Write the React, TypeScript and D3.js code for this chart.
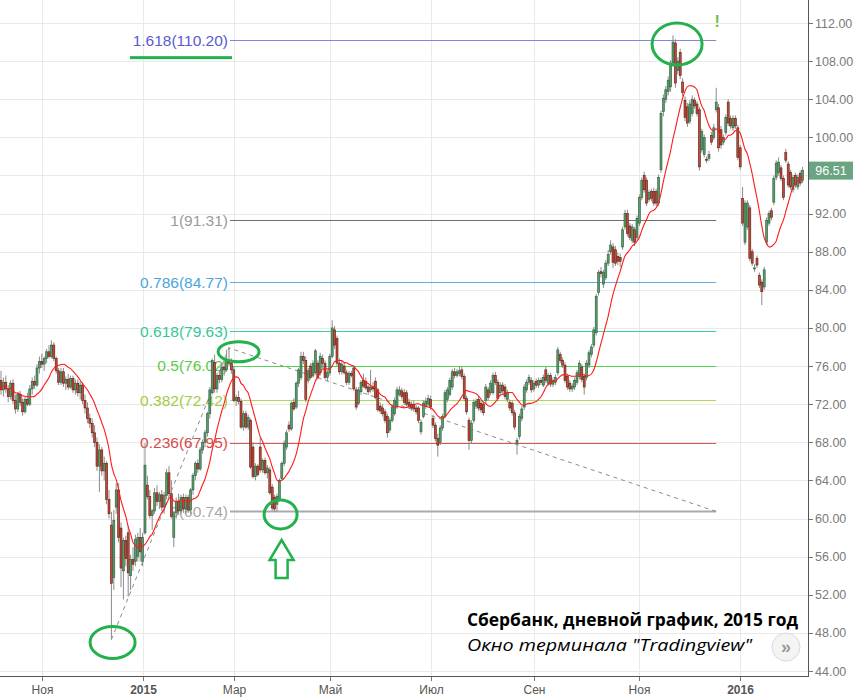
import React, { useEffect, useRef } from "react";
import * as d3 from "d3";

const width = 859;
const height = 698;

// daily candles, [open, high, low, close], one array per month
const oct14 = [
  [74.5, 75.5, 73, 73.5], [73.5, 74.8, 72.8, 74.3], [74.3, 75, 73.2, 73.6], [73.6, 74, 72.2, 72.8],
  [72.8, 74.5, 72.5, 74.2], [74.2, 74.6, 72, 72.4], [72.4, 73, 71, 71.5], [71.5, 73.3, 71.2, 73],
  [73, 73.4, 71.8, 72.2], [72.2, 72.6, 70.8, 71.2], [71.2, 72.8, 71, 72.5], [72.5, 73.2, 71.8, 72],
  [72, 74, 71.8, 73.6], [73.6, 74.8, 73, 74.4], [74.4, 75, 73.6, 74], [74, 76.2, 73.8, 75.8],
  [75.8, 77, 75.2, 76.5],
];
const nov14 = [
  [76.5, 77.3, 75.8, 76.2], [76.2, 77, 75.5, 76.8], [76.8, 77.8, 76.3, 77.5], [77.5, 78.2, 76.8, 77],
  [77, 78.7, 76.8, 78.2], [78.2, 78.5, 76.5, 76.8], [76.8, 77, 75.2, 75.5], [75.5, 75.8, 74, 74.3],
  [74.3, 75.8, 74, 75.4], [75.4, 75.8, 73.8, 74.2], [74.2, 74.9, 73.5, 74.6], [74.6, 75.2, 73.5, 73.8],
  [73.8, 75, 73.6, 74.7], [74.7, 75, 73.2, 73.5], [73.5, 74.6, 73, 74.2], [74.2, 74.6, 72.8, 73.2],
  [73.2, 74.4, 72.5, 74], [74, 74.3, 72, 72.4], [72.4, 73, 71, 71.6], [71.6, 72.2, 70, 70.5],
];
const dec14 = [
  [70.5, 71, 69.5, 70], [70, 70.5, 68.5, 69], [69, 69.8, 67.5, 68], [68, 68.5, 65, 65.5],
  [65.5, 67.8, 62.8, 67.2], [67.2, 67.5, 64.5, 65], [65, 66.5, 64, 65.8], [65.8, 66, 61.5, 62],
  [62, 63, 60, 60.5], [59.3, 60.7, 47.3, 53.2], [53.8, 60.9, 52.5, 59.8], [61.2, 63.7, 60.5, 63],
  [63, 63.7, 57.5, 58], [59, 59.6, 52.8, 54.8], [54.5, 58, 51.5, 57.7], [57.7, 58.2, 55, 55.8],
  [58.5, 59.2, 51.8, 54.3], [54, 56.2, 52.5, 55.7], [55.7, 57, 54.5, 55.2], [55.5, 58.3, 55, 57.8],
  [56, 58.5, 55.5, 58], [58, 59, 55.5, 56.5],
];
const jan15 = [
  [55.5, 58.5, 55, 58], [58.5, 67.9, 58.3, 65.6], [63.5, 64.5, 62, 62.3], [62.3, 63, 60, 60.3],
  [60.3, 61, 58.8, 60.8], [60.8, 63.2, 60.5, 62.7], [62.7, 63.5, 61.3, 61.8], [61.8, 62.8, 61, 62.5],
  [62.5, 63, 60.8, 61.2], [61.2, 62.8, 60.5, 62.4], [62.4, 65.2, 62, 64.8], [64.8, 65.5, 62.3, 62.6],
  [62.6, 64, 60, 60.2], [58, 60.8, 57, 60.6], [60.6, 62.2, 60, 61.8], [61.8, 62.6, 60.4, 60.8],
  [60.8, 62.5, 60.5, 62.2], [62.2, 62.6, 60.6, 61],
];
const feb15 = [
  [61, 62.5, 60.5, 62.2], [62.2, 62.5, 60.6, 60.9], [60.9, 63.2, 60.5, 63], [63, 64.8, 62.5, 64.5],
  [64.5, 66, 64, 65.8], [65.8, 66.2, 64.8, 65.2], [65.2, 67.5, 65, 67.2], [67.2, 68.3, 66.8, 68],
  [68, 69.3, 67.5, 69], [69, 71.2, 68.6, 71], [71, 73.8, 70.5, 73.5], [73.2, 76.8, 73, 76.6],
  [76.4, 77.2, 73.2, 73.6], [73.6, 75.3, 73.2, 75], [75, 75.4, 74.2, 74.6], [74.6, 76.2, 74.3, 75.9],
  [75.9, 76.4, 75, 75.6], [75.6, 77.7, 75.4, 76.6], [76.6, 78, 76, 76.3], [76.3, 76.8, 75.2, 75.6],
];
const mar15 = [
  [75.6, 76, 72.2, 72.4], [72.4, 73, 71.8, 72.7], [72.7, 73.4, 72, 72.3], [72.3, 72.6, 69.4, 69.6],
  [69.6, 71.3, 69.2, 71], [71, 71.3, 69.4, 69.6], [69.6, 70.9, 69.3, 70.6], [70.3, 70.5, 65.2, 65.4],
  [67.5, 68, 64.2, 64.4], [64.4, 65.8, 64, 65.5], [65.5, 65.7, 64.4, 64.6], [67.5, 68.5, 64.8, 65.1],
  [65.1, 66.3, 64.8, 66.1], [66.1, 66.4, 64.6, 64.8], [64.8, 65.6, 64.2, 65.3], [65.1, 65.4, 62.5, 62.7],
  [63.3, 63.6, 60.8, 61.1], [62.2, 62.5, 60.7, 61], [61.5, 62.6, 60.74, 62.3], [62, 64.2, 61.8, 64],
];
const apr15 = [
  [64.2, 66, 64, 65.8], [65.8, 68.2, 65.5, 67.9], [67.5, 69.3, 67.2, 69], [69.8, 70.2, 69.1, 69.4],
  [69.4, 72.3, 69.2, 72.1], [72.2, 72.6, 71.3, 71.5], [71.7, 74.4, 71.5, 74.2], [74.2, 75.8, 73.8, 75.6],
  [74.8, 77.5, 74.5, 77], [77, 77.5, 76.2, 76.6], [76.6, 77, 72.2, 72.5], [74.5, 75.8, 74.2, 75.5],
  [76, 76.3, 74.6, 74.8], [75, 76.6, 74.8, 76.3], [75.3, 77.8, 75.1, 77.6], [76.3, 76.6, 74.6, 74.8],
  [75.3, 77.4, 75, 77], [76.8, 77.2, 75.8, 76.3], [76.3, 76.6, 74.6, 74.8], [74.8, 75.6, 74.4, 75.3],
];
const may15 = [
  [75.3, 77.3, 75, 77], [77, 80.8, 76.8, 80], [79.8, 80.2, 77.8, 78.2], [78.9, 79.2, 76, 76.3],
  [76.3, 76.8, 75.1, 75.4], [75.4, 76.5, 75.1, 76.2], [76, 76.4, 75.1, 75.3], [75.3, 75.6, 74, 74.3],
  [74.3, 75.5, 74, 75.2], [75.2, 75.5, 74.8, 75], [75.8, 76, 73.4, 73.6], [73.5, 73.8, 71.4, 71.7],
  [72.1, 73.8, 71.9, 73.5], [73.3, 74.5, 73, 74.3], [74.5, 75.2, 73.7, 73.9], [74.4, 74.8, 73.5, 73.7],
  [73.8, 74, 73, 73.3], [73.5, 75.6, 73.2, 73.8], [73.8, 74.3, 73.3, 73.6], [74.4, 74.8, 72.5, 72.7],
  [73.5, 73.7, 71.2, 71.4],
];
const jun15 = [
  [71.8, 72.2, 71, 71.3], [71.6, 72, 70.7, 71], [71.2, 71.5, 70, 70.3], [70.7, 71, 68.5, 69],
  [69.3, 70.6, 69, 70.3], [70.3, 72, 70.1, 71.7], [71, 72.7, 70.8, 72.4], [71.7, 73.8, 71.5, 73.5],
  [73, 73.9, 72.8, 73.5], [73.4, 73.7, 72.5, 72.8], [73.2, 73.6, 71.9, 72.2], [73.2, 73.5, 71.8, 72],
  [72.2, 72.6, 71.5, 71.8], [72, 72.3, 71.3, 71.6], [72, 72.4, 71.2, 71.5], [71.6, 71.9, 70.9, 71.2],
  [71.6, 71.8, 70, 70.3], [69.1, 70.4, 68.8, 70.1], [70.7, 72.4, 70.5, 72.1], [71.8, 72.7, 71.5, 72.3],
  [72, 73, 71.8, 72.6],
];
const jul15 = [
  [72.5, 72.9, 71.4, 71.7], [70.5, 70.9, 69.5, 69.8], [69.8, 70.1, 68.1, 68.4], [68.4, 68.9, 66.5, 67.7],
  [68, 69.8, 67.7, 69.5], [69.5, 71, 69.2, 70.7], [70.7, 73.5, 70.5, 73.2], [72.5, 73.8, 72.2, 73.5],
  [73, 74.8, 72.8, 74.5], [73.8, 75.7, 73.5, 75.4], [75.4, 75.8, 74.7, 75], [75, 75.7, 74.8, 75.4],
  [75.2, 76, 74.9, 75.5], [75.6, 75.9, 74.6, 74.9], [74.9, 75.2, 72.3, 72.6], [72.6, 72.9, 70.9, 71.2],
  [70.3, 70.6, 67.2, 68.2], [68.2, 70.3, 67.9, 70], [70.3, 72.5, 70, 72.2], [71.8, 72.6, 71.5, 72.3],
  [72.5, 72.9, 71.3, 71.6], [72.1, 72.4, 71.1, 71.4],
];
const aug15 = [
  [72, 72.3, 70.8, 71.1], [72.4, 74.1, 72.1, 73.8], [73.5, 73.8, 72.4, 72.7], [73.2, 74.5, 72.9, 74.2],
  [73.2, 75.3, 73, 75], [75, 75.4, 74, 74.3], [74.3, 74.6, 72.3, 72.6], [73.2, 74.3, 72.9, 74],
  [74, 74.3, 73.1, 73.4], [73.8, 74.1, 72.5, 72.8], [72.5, 73.5, 72.2, 73.2], [72.2, 72.5, 71.3, 71.6],
  [72.1, 72.4, 70.8, 71.1], [71.1, 71.4, 69.3, 69.6], [67.9, 68.5, 66.7, 68.2], [68.6, 71, 68.3, 70.7],
  [70.5, 71.8, 70.2, 71.5], [71.7, 74.1, 71.4, 73.8], [73.5, 74.6, 73.2, 74.3], [74.3, 75.1, 74, 74.8],
  [74.5, 74.8, 73.2, 73.5],
];
const sep15 = [
  [73.6, 74.5, 73.3, 74.2], [74.4, 74.7, 73.7, 74], [74, 74.8, 73.7, 74.5], [74.5, 74.8, 74, 74.3],
  [74, 75.1, 73.8, 74.8], [75.6, 75.9, 74.2, 74.5], [74.2, 75.3, 73.9, 75], [75, 75.3, 73.8, 74.1],
  [74.1, 74.8, 73.8, 74.5], [74.3, 75.1, 74, 74.8], [75.3, 78, 75, 77.7], [77.2, 77.5, 76.3, 76.6],
  [76.6, 76.9, 75.8, 76.1], [76.1, 76.4, 74.2, 74.5], [74.9, 75.2, 73.5, 73.8], [74.2, 74.5, 73.3, 73.6],
  [73.6, 74.2, 73.3, 73.9], [73.8, 74.8, 73.5, 74.5], [74.3, 75.6, 74, 75.3], [74.9, 76.6, 74.6, 76.3],
  [75.9, 76.2, 74.3, 74.6], [74.9, 75.2, 73, 73.8],
];
const oct15 = [
  [74.8, 76.6, 74.5, 76.3], [76.1, 77.7, 75.8, 77.4], [77.2, 78.3, 76.9, 78], [78.2, 80.1, 77.9, 79.8],
  [79.5, 83.6, 79.2, 83.3], [83.7, 86.1, 83.4, 85.8], [85.9, 86.4, 85.3, 85.7], [84.6, 86.1, 84.2, 85.8],
  [85.3, 87.1, 85, 86.8], [86.8, 88.2, 86.5, 87.7], [88, 89.2, 87.7, 88.7], [88.5, 88.9, 86.3, 86.9],
  [88.2, 88.6, 86.5, 86.8], [87.5, 87.9, 86.6, 87], [87.4, 87.8, 86.4, 87], [88.5, 90.6, 88.2, 90.3],
  [90.6, 92.4, 90.3, 92], [92, 92.4, 89.6, 89.9], [90.7, 91, 89.2, 89.5], [89.2, 90.9, 88.9, 90.6],
  [90.3, 90.6, 88.6, 89], [89.5, 91.8, 89.2, 91.5],
];
const nov15 = [
  [91, 94, 90.7, 93.7], [93.7, 95.8, 93.4, 95.5], [96, 96.4, 94.2, 94.5], [95.5, 95.8, 92.8, 93.1],
  [93.5, 94.5, 93.2, 94.2], [94.3, 94.6, 93.3, 93.6], [94.3, 94.7, 92.8, 93.1], [94.3, 94.6, 92.8, 93.1],
  [93.1, 96.1, 92.8, 95.8], [96.6, 102.8, 96.3, 102.5], [102.7, 104.5, 102.2, 104.1], [104, 105.4, 103.6, 105],
  [104.8, 106.4, 104.4, 106], [105.3, 108.1, 104.8, 107.8], [107.8, 110.7, 107.4, 110], [109.9, 110.3, 105.2, 105.7],
  [107, 108.4, 106.6, 108], [108.9, 109.3, 106.1, 106.5], [105.8, 106.2, 104.3, 104.7], [103.9, 104.3, 101.7, 102.1],
];
const dec15 = [
  [103.2, 103.6, 101.1, 101.5], [101.7, 103.9, 101.4, 103.5], [102.5, 104.4, 102.2, 104], [103.9, 104.2, 103, 103.3],
  [103.5, 103.8, 102.2, 102.5], [102.9, 103.2, 96.5, 96.9], [98.7, 100.9, 98.4, 100.6], [98.2, 100.3, 97.9, 100],
  [97.7, 98, 97.3, 97.6], [97.8, 98.6, 97.5, 98.2], [100.2, 100.6, 99.2, 99.5], [100, 101.4, 99.7, 101],
  [102.9, 105.2, 102.6, 103.7], [103.1, 103.5, 98.5, 98.9], [100.8, 101.2, 98.8, 99.2], [99.5, 100.3, 99.2, 100],
  [100.5, 102.4, 100.2, 102.1], [103.7, 104, 101.2, 101.5], [102, 102.3, 100.9, 101.2], [101, 102.3, 100.7, 102],
  [102, 102.3, 100.9, 101.2], [101, 101.3, 97.6, 97.9],
];
const jan16 = [
  [98.9, 99.2, 96.6, 96.9], [93.6, 94.8, 90.7, 91], [89, 93.4, 88.7, 93.1], [90.6, 93.4, 90.3, 93.1],
  [92.6, 92.9, 87, 87.3], [88, 88.3, 86.5, 86.8], [86.3, 86.7, 85.9, 86.3], [87.3, 87.6, 86.3, 86.6],
  [85.5, 85.8, 84.2, 84.5], [84.8, 85.1, 82.4, 83.8], [84.3, 86.4, 84, 86.1], [89, 91.6, 88.7, 91.3],
  [91, 92.3, 90.7, 92], [92.3, 92.6, 91.3, 91.6], [93.2, 96, 92.9, 95.7],
];
const feb16 = [
  [95.8, 97.6, 95.5, 97.3], [96.3, 97.9, 96, 97.4], [96.8, 97.1, 95.4, 95.7], [95.7, 96, 93.4, 93.7],
  [98.4, 98.8, 97.3, 97.6], [97.2, 97.5, 94.7, 95], [96.3, 96.6, 94.5, 94.8], [94.5, 96.1, 94.2, 95.8],
  [96, 96.3, 94.7, 95], [94.8, 96.1, 94.5, 95.8], [96.2, 96.5, 94.9, 95.2], [95.5, 96.9, 95.2, 96.51],
];

const monthNames = ["Окт", "Ноя", "Дек", "2015", "Фев", "Мар", "Апр", "Май", "Июн", "Июл", "Авг", "Сен", "Окт", "Ноя", "Дек", "2016", "Фев"];
const monthBars = [oct14, nov14, dec14, jan15, feb15, mar15, apr15, may15, jun15, jul15, aug15, sep15, oct15, nov15, dec15, jan16, feb16];

const priceTicks = d3.range(44, 113, 4);
const lastPrice = 96.51;

// trend based fib extension
const fibRatios = ["1.618", "1", "0.786", "0.618", "0.5", "0.382", "0.236", "0"];
const fibPrices = [110.2, 91.31, 84.77, 79.63, 76.02, 72.42, 67.95, 60.74];
const fibLine = ["#8585e0", "#6e6e6e", "#63b0e0", "#38d29f", "#4fd64f", "#b2d85a", "#d9534f", "#aaaaaa"];
const fibText = ["#5a5ad0", "#9a9a9a", "#4aa6dc", "#36c796", "#5acb47", "#a2cc45", "#d94b4b", "#a8a8a8"];
const trendIdx = [46, 95, 298];
const trendPrice = [47.3, 77.9, 60.74];

// hand drawn marks: bar index, price, radii
const markIdx = [46.5, 99, 116.5, 281.7];
const markPrice = [47.0, 77.5, 60.43, 109.8];
const markR = [[22.5, 16], [20.5, 10], [16.5, 14.5], [25, 21]];

const MA_LEN = 12;

export default function App() {
  const svgRef = useRef<SVGSVGElement>(null);

  useEffect(() => {
    const svg = d3.select(svgRef.current);
    svg.selectAll("*").remove();

    const bars = monthBars.flat();
    const plotRight = 808;
    const plotBottom = 676;
    const font = "'Liberation Sans', Arial, sans-serif";

    const x = d3.scaleLinear().domain([0, bars.length - 1]).range([1, 1 + 2.4 * (bars.length - 1)]);
    const y = d3.scaleLinear().domain([44, 112]).range([671, 23]);

    const monthStart: number[] = [];
    let acc = 0;
    monthBars.forEach((m) => {
      monthStart.push(acc);
      acc += m.length;
    });

    svg.append("rect").attr("width", width).attr("height", height).attr("fill", "#fff");

    svg.append("defs").append("clipPath").attr("id", "plot")
      .append("rect").attr("width", plotRight).attr("height", plotBottom);

    const plot = svg.append("g").attr("clip-path", "url(#plot)");

    // grid
    plot.selectAll(".hgrid").data(priceTicks).enter().append("line")
      .attr("x1", 0).attr("x2", plotRight)
      .attr("y1", (d) => Math.round(y(d)) + 0.5).attr("y2", (d) => Math.round(y(d)) + 0.5)
      .attr("stroke", "#e9e9e9");
    const shown = monthNames.map((n, i) => ({ n, i })).filter((d) => d.i % 2 === 1);
    plot.selectAll(".vgrid").data(shown).enter().append("line")
      .attr("x1", (d) => Math.round(x(monthStart[d.i])) + 0.5).attr("x2", (d) => Math.round(x(monthStart[d.i])) + 0.5)
      .attr("y1", 0).attr("y2", plotBottom)
      .attr("stroke", "#e9e9e9");

    // fib levels
    const fibX0 = x(trendIdx[1]) + 1;
    const fibX1 = x(trendIdx[2]);
    fibPrices.forEach((p, i) => {
      plot.append("line")
        .attr("x1", fibX0).attr("x2", fibX1)
        .attr("y1", Math.round(y(p)) + 0.5).attr("y2", Math.round(y(p)) + 0.5)
        .attr("stroke", fibLine[i]).attr("stroke-width", i === 7 ? 2 : 1.2);
      plot.append("text")
        .attr("x", fibX0 - 2).attr("y", y(p) + 5.5)
        .attr("text-anchor", "end")
        .attr("font-family", font).attr("font-size", 15.5)
        .attr("fill", fibText[i])
        .text(`${fibRatios[i]}(${p.toFixed(2)})`);
    });

    // dashed trend
    const trend = d3.line<number>().x((d) => x(trendIdx[d])).y((d) => y(trendPrice[d]));
    plot.append("path").attr("d", trend([0, 1, 2]))
      .attr("fill", "none").attr("stroke", "#8c8c8c").attr("stroke-width", 1)
      .attr("stroke-dasharray", "4,4");

    // candles
    const cg = plot.append("g");
    bars.forEach((b, i) => {
      const [o, h, l, c] = b;
      const up = c >= o;
      const cx = x(i);
      cg.append("line")
        .attr("x1", cx).attr("x2", cx).attr("y1", y(h)).attr("y2", y(l))
        .attr("stroke", "#8a8a8a").attr("stroke-width", 1);
      const top = y(Math.max(o, c));
      const hgt = Math.max(1, Math.abs(y(o) - y(c)));
      cg.append("rect")
        .attr("x", cx - 1).attr("y", top).attr("width", 2).attr("height", hgt)
        .attr("fill", up ? "#5a9a6e" : "#bd4c3a")
        .attr("stroke", up ? "#2b5e3b" : "#5e1c12").attr("stroke-width", 0.6);
    });

    // moving average
    const closes = bars.map((b) => b[3]);
    const ma = closes.map((_, i) => d3.mean(closes.slice(Math.max(0, i - MA_LEN + 1), i + 1)) as number);
    const maLine = d3.line<number>().x((_, i) => x(i)).y((d) => y(d)).curve(d3.curveMonotoneX);
    plot.append("path").attr("d", maLine(ma))
      .attr("fill", "none").attr("stroke", "#ff1a1a").attr("stroke-width", 1.1);

    // marks
    const green = "#22b14c";
    markIdx.forEach((mi, k) => {
      plot.append("ellipse")
        .attr("cx", x(mi)).attr("cy", y(markPrice[k]))
        .attr("rx", markR[k][0]).attr("ry", markR[k][1])
        .attr("fill", "none").attr("stroke", green).attr("stroke-width", 3);
    });
    const ax = x(116.5) + 1;
    const ay = 540;
    plot.append("path")
      .attr("d", `M${ax},${ay} L${ax + 12},${ay + 20} L${ax + 6},${ay + 20} L${ax + 6},${ay + 38} L${ax - 6},${ay + 38} L${ax - 6},${ay + 20} L${ax - 12},${ay + 20} Z`)
      .attr("fill", "none").attr("stroke", green).attr("stroke-width", 2.5).attr("stroke-linejoin", "miter");
    plot.append("rect")
      .attr("x", fibX0 - 100).attr("y", y(fibPrices[0]) + 16)
      .attr("width", 102).attr("height", 3).attr("fill", green);
    plot.append("text")
      .attr("x", fibX1 + 1).attr("y", 27).attr("text-anchor", "middle")
      .attr("font-family", font).attr("font-weight", "bold").attr("font-size", 16)
      .attr("fill", "#6cc04a").text("!");

    // right axis
    svg.append("line").attr("x1", plotRight + 0.5).attr("x2", plotRight + 0.5)
      .attr("y1", 0).attr("y2", plotBottom + 1).attr("stroke", "#555");
    priceTicks.forEach((p) => {
      const yy = Math.round(y(p)) + 0.5;
      svg.append("line").attr("x1", plotRight + 1).attr("x2", plotRight + 5)
        .attr("y1", yy).attr("y2", yy).attr("stroke", "#777");
      if (Math.abs(y(p) - y(lastPrice)) < 12) return;
      svg.append("text").attr("x", 815).attr("y", y(p) + 4.5)
        .attr("font-family", font).attr("font-size", 12.5).attr("fill", "#7a7a7a")
        .text(p.toFixed(2));
    });
    const ly = y(lastPrice);
    svg.append("rect").attr("x", plotRight + 1).attr("y", ly - 9).attr("width", 44).attr("height", 18)
      .attr("fill", "#6aa482");
    svg.append("text").attr("x", 831).attr("y", ly + 4.5).attr("text-anchor", "middle")
      .attr("font-family", font).attr("font-size", 12.5).attr("fill", "#fff")
      .text(lastPrice.toFixed(2));

    // bottom axis
    svg.append("line").attr("x1", 0).attr("x2", plotRight + 1)
      .attr("y1", plotBottom + 0.5).attr("y2", plotBottom + 0.5).attr("stroke", "#555");
    shown.forEach((d) => {
      const xx = Math.round(x(monthStart[d.i])) + 0.5;
      svg.append("line").attr("x1", xx).attr("x2", xx).attr("y1", plotBottom + 1).attr("y2", plotBottom + 5)
        .attr("stroke", "#777");
      svg.append("text").attr("x", xx).attr("y", 694).attr("text-anchor", "middle")
        .attr("font-family", font).attr("font-size", 12)
        .attr("font-weight", /\d/.test(d.n) ? "bold" : "normal")
        .attr("fill", "#555").text(d.n);
    });

    // caption
    svg.append("text").attr("x", 467).attr("y", 626)
      .attr("font-family", "'Open Sans', sans-serif").attr("font-weight", "bold").attr("font-size", 17)
      .attr("textLength", 331).attr("lengthAdjust", "spacingAndGlyphs")
      .attr("fill", "#000").text("Сбербанк, дневной график, 2015 год");
    svg.append("text").attr("x", 467).attr("y", 651)
      .attr("font-family", "'Open Sans', sans-serif").attr("font-style", "italic").attr("font-size", 17)
      .attr("textLength", 285).attr("lengthAdjust", "spacingAndGlyphs")
      .attr("fill", "#000").text("Окно терминала \"Tradingview\"");

    svg.append("circle").attr("cx", 786).attr("cy", 647).attr("r", 14)
      .attr("fill", "#f4f4f4").attr("stroke", "#d8d8d8");
    svg.append("text").attr("x", 786).attr("y", 652.5).attr("text-anchor", "middle")
      .attr("font-family", font).attr("font-weight", "bold").attr("font-size", 18)
      .attr("fill", "#9a9a9a").text("»");
  }, []);

  return (
    <svg ref={svgRef} width={width} height={height} style={{ position: "absolute", left: 0, top: 0 }} />
  );
}
